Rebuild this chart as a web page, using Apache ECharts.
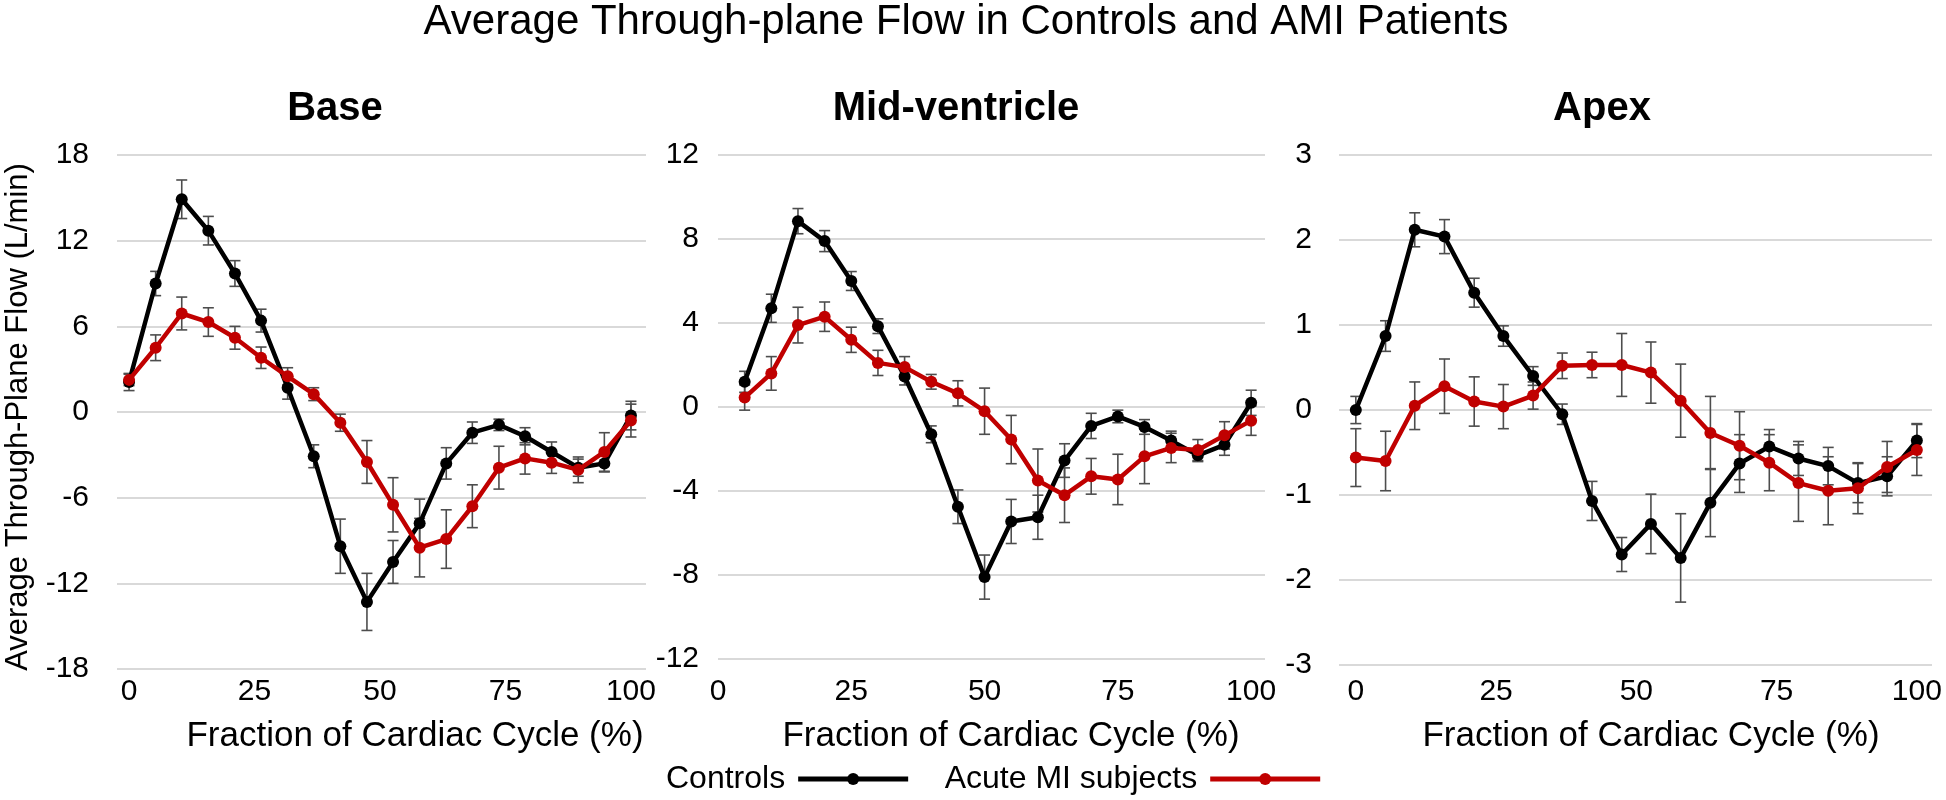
<!DOCTYPE html>
<html><head><meta charset="utf-8">
<script src="https://cdn.jsdelivr.net/npm/echarts@6/dist/echarts.min.js"></script>
<style>html,body{margin:0;padding:0;background:#fff}#c{width:1946px;height:800px}</style>
</head><body><div id="c"></div>
<script>
// ---------- DATA ----------
const panelTitles = ['Base', 'Mid-ventricle', 'Apex'];
const seriesNames = ['Controls', 'Acute MI subjects'];
const xTickLabels = [0, 25, 50, 75, 100];

const baseX = [0, 5.3, 10.5, 15.8, 21.1, 26.3, 31.6, 36.8, 42.1, 47.4, 52.6, 57.9, 63.2, 68.4, 73.7, 78.9, 84.2, 89.5, 94.7, 100];
const midX  = [5, 10, 15, 20, 25, 30, 35, 40, 45, 50, 55, 60, 65, 70, 75, 80, 85, 90, 95, 100];
const apexX = [0, 5.3, 10.5, 15.8, 21.1, 26.3, 31.6, 36.8, 42.1, 47.4, 52.6, 57.9, 63.2, 68.4, 73.7, 78.9, 84.2, 89.5, 94.7, 100];

const baseControls    = [2.1, 9.0, 14.9, 12.7, 9.7, 6.4, 1.7, -3.1, -9.4, -13.3, -10.5, -7.8, -3.6, -1.45, -0.9, -1.7, -2.8, -3.9, -3.6, -0.25];
const baseControlsErr = [0.6, 0.85, 1.35, 1.0, 0.9, 0.8, 0.8, 0.8, 1.9, 2.0, 1.5, 1.7, 1.1, 0.75, 0.4, 0.6, 0.7, 0.6, 0.6, 1.0];
const baseAMI         = [2.25, 4.5, 6.9, 6.3, 5.2, 3.8, 2.5, 1.25, -0.75, -3.5, -6.5, -9.5, -8.9, -6.6, -3.9, -3.25, -3.55, -4.05, -2.8, -0.6];
const baseAMIErr      = [0.4, 0.9, 1.15, 1.0, 0.8, 0.75, 0.6, 0.45, 0.6, 1.5, 1.9, 2.05, 2.05, 1.5, 1.5, 1.1, 0.75, 0.9, 1.35, 1.15];

const midControls    = [1.2, 4.7, 8.85, 7.9, 6.0, 3.85, 1.45, -1.3, -4.75, -8.1, -5.45, -5.25, -2.55, -0.9, -0.45, -0.95, -1.6, -2.3, -1.8, 0.2];
const midControlsErr = [0.5, 0.67, 0.6, 0.5, 0.45, 0.35, 0.4, 0.4, 0.8, 1.05, 1.05, 1.05, 0.8, 0.6, 0.3, 0.35, 0.45, 0.3, 0.5, 0.6];
const midAMI         = [0.45, 1.6, 3.9, 4.3, 3.2, 2.1, 1.9, 1.2, 0.65, -0.2, -1.55, -3.5, -4.2, -3.3, -3.45, -2.35, -1.95, -2.05, -1.35, -0.65];
const midAMIErr      = [0.6, 0.8, 0.85, 0.7, 0.6, 0.6, 0.5, 0.35, 0.6, 1.1, 1.15, 1.5, 1.3, 0.85, 1.2, 1.3, 0.7, 0.5, 0.65, 0.7];

const apexControls    = [0.0, 0.87, 2.12, 2.04, 1.38, 0.87, 0.4, -0.05, -1.07, -1.7, -1.34, -1.74, -1.09, -0.63, -0.43, -0.57, -0.66, -0.86, -0.78, -0.36];
const apexControlsErr = [0.16, 0.18, 0.2, 0.2, 0.17, 0.12, 0.11, 0.12, 0.23, 0.2, 0.35, 0.52, 0.4, 0.34, 0.2, 0.2, 0.22, 0.23, 0.23, 0.2];
const apexAMI         = [-0.56, -0.6, 0.05, 0.28, 0.1, 0.04, 0.17, 0.52, 0.53, 0.53, 0.44, 0.11, -0.27, -0.42, -0.62, -0.86, -0.95, -0.92, -0.67, -0.47];
const apexAMIErr      = [0.34, 0.35, 0.28, 0.32, 0.29, 0.26, 0.16, 0.15, 0.15, 0.37, 0.36, 0.43, 0.43, 0.4, 0.33, 0.45, 0.4, 0.3, 0.3, 0.3];

// ---------- LAYOUT / STYLE ----------
const FONT = '"Liberation Sans", Arial, Helvetica, sans-serif';
const colors = ['#000000', '#c00000'];
const panels = [
  { x: baseX, ctrl: baseControls, ctrlErr: baseControlsErr, ami: baseAMI, amiErr: baseAMIErr,
    grid: {left: 117, top: 155, width: 529, height: 514}, xMin: -2.4, xMax: 103,
    yMin: -18, yMax: 18, yInt: 6, yMargin: 28, xMargin: 8, titleX: 335, nameX: 415 },
  { x: midX, ctrl: midControls, ctrlErr: midControlsErr, ami: midAMI, amiErr: midAMIErr,
    grid: {left: 718, top: 155, width: 547, height: 504}, xMin: 0, xMax: 102.6,
    yMin: -12, yMax: 12, yInt: 4, yMargin: 19, xMargin: 18, titleX: 956, nameX: 1011 },
  { x: apexX, ctrl: apexControls, ctrlErr: apexControlsErr, ami: apexAMI, amiErr: apexAMIErr,
    grid: {left: 1339, top: 155, width: 593, height: 510}, xMin: -3.0, xMax: 102.7,
    yMin: -3, yMax: 3, yInt: 1, yMargin: 27, xMargin: 12, titleX: 1602, nameX: 1651 }
];

function renderErr(params, api) {
  const x = api.value(0), y = api.value(1), e = api.value(2);
  const top = api.coord([x, y + e]);
  const bot = api.coord([x, y - e]);
  const hw = 5.5;
  const style = {stroke: '#4d4d4d', lineWidth: 1.6, fill: null};
  return {type: 'group', children: [
    {type: 'line', shape: {x1: top[0], y1: top[1], x2: bot[0], y2: bot[1]}, style: style},
    {type: 'line', shape: {x1: top[0] - hw, y1: top[1], x2: top[0] + hw, y2: top[1]}, style: style},
    {type: 'line', shape: {x1: bot[0] - hw, y1: bot[1], x2: bot[0] + hw, y2: bot[1]}, style: style}
  ]};
}

const grids = [], xAxes = [], yAxes = [], series = [];
const titles = [{
  text: 'Average Through-plane Flow in Controls and AMI Patients',
  left: 966, top: 1, textAlign: 'center', padding: 0,
  textStyle: {fontFamily: FONT, fontSize: 42, fontWeight: 'normal', color: '#000'}
}];

panels.forEach((p, i) => {
  grids.push(Object.assign({outerBoundsMode: 'none', containLabel: false}, p.grid));
  xAxes.push({
    type: 'value', gridIndex: i, min: p.xMin, max: p.xMax,
    axisLine: {show: false}, axisTick: {show: false}, splitLine: {show: false},
    axisLabel: {customValues: xTickLabels, margin: p.xMargin, fontFamily: FONT, fontSize: 30, color: '#000'}
  });
  yAxes.push({
    type: 'value', gridIndex: i, min: p.yMin, max: p.yMax, interval: p.yInt,
    axisLine: {show: false}, axisTick: {show: false},
    splitLine: {show: true, lineStyle: {color: '#d9d9d9', width: 2}},
    axisLabel: {margin: p.yMargin, fontFamily: FONT, fontSize: 30, color: '#000'}
  });
  const groups = [[p.ctrl, p.ctrlErr], [p.ami, p.amiErr]];
  groups.forEach((g, k) => {
    series.push({
      type: 'custom', name: seriesNames[k] + ' error', xAxisIndex: i, yAxisIndex: i,
      renderItem: renderErr, z: 1, silent: true,
      encode: {x: 0, y: 1},
      data: p.x.map((xv, j) => [xv, g[0][j], g[1][j]])
    });
  });
  groups.forEach((g, k) => {
    series.push({
      type: 'line', name: seriesNames[k], xAxisIndex: i, yAxisIndex: i, z: 3 + k,
      symbol: 'circle', symbolSize: 12, showSymbol: true,
      lineStyle: {color: colors[k], width: 4.5},
      itemStyle: {color: colors[k]},
      data: p.x.map((xv, j) => [xv, g[0][j]])
    });
  });
  titles.push({
    text: panelTitles[i], left: p.titleX, top: 89, textAlign: 'center', padding: 0,
    textStyle: {fontFamily: FONT, fontSize: 40, fontWeight: 'bold', color: '#000'}
  });
  titles.push({
    text: 'Fraction of Cardiac Cycle (%)', left: p.nameX, top: 719, textAlign: 'center', padding: 0,
    textStyle: {fontFamily: FONT, fontSize: 35, fontWeight: 'normal', color: '#000'}
  });
});

const chart = echarts.init(document.getElementById('c'), null, {renderer: 'canvas'});
chart.setOption({
  animation: false,
  backgroundColor: '#ffffff',
  title: titles,
  grid: grids,
  xAxis: xAxes,
  yAxis: yAxes,
  series: series,
  legend: {
    data: seriesNames, left: 666, top: 763, align: 'right', orient: 'horizontal',
    itemWidth: 110, itemHeight: 15, itemGap: 34, padding: 0,
    lineStyle: {width: 5},
    textStyle: {fontFamily: FONT, fontSize: 32, color: '#000', padding: [0, 8, 0, 0]}
  },
  graphic: [{
    type: 'text', x: 18, y: 417, rotation: Math.PI / 2,
    style: {text: 'Average Through-Plane Flow (L/min)', fontFamily: FONT, fontSize: 31,
            fill: '#000', align: 'center', verticalAlign: 'middle'}
  }]
});
</script></body></html>
